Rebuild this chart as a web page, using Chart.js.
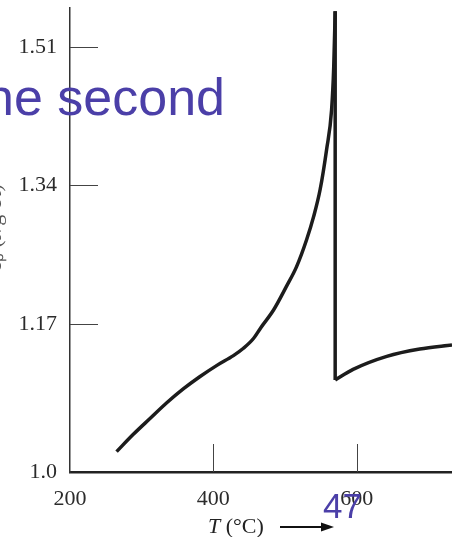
<!DOCTYPE html>
<html>
<head>
<meta charset="utf-8">
<script src="https://cdn.jsdelivr.net/npm/chart.js@4"></script>
<style>
  html, body { margin: 0; padding: 0; background: #ffffff; overflow: hidden; }
  canvas { display: block; }
</style>
</head>
<body>
<canvas id="myChart" width="452" height="537"></canvas>
<script>
// data kurva kiri (naik sampai puncak)
const leftT  = [265, 288, 312, 335, 358, 381, 405, 428, 442, 456, 466, 484, 502, 516, 530, 540, 549, 558, 565, 568, 570];
const leftCp = [1.013, 1.034, 1.054, 1.073, 1.090, 1.105, 1.119, 1.131, 1.140, 1.152, 1.165, 1.187, 1.216, 1.240, 1.273, 1.302, 1.335, 1.384, 1.433, 1.486, 1.554];
// data kurva kanan (setelah jatuh)
const rightT  = [570, 595, 642, 688, 733];
const rightCp = [1.101, 1.114, 1.130, 1.139, 1.144];
// label sumbu
const xTicks = [200, 400, 600];
const yTicks = [1.0, 1.17, 1.34, 1.51];
const yTickLabels = ['1.0', '1.17', '1.34', '1.51'];

// gabungkan array jadi titik {x, y}
function toPoints(xs, ys) {
    return xs.map((x, i) => ({ x: x, y: ys[i] }));
}

const lineColor = '#1c1c1c';
const purple = '#4b3fa8';

// plugin untuk tanda tick di dalam, judul sumbu dan teks ungu
const overlay = {
    id: 'overlay',
    afterDraw(chart) {
        const ctx = chart.ctx;
        const area = chart.chartArea;
        const xs = chart.scales.x;
        const ys = chart.scales.y;
        ctx.save();

        // tick pendek di dalam area
        ctx.strokeStyle = '#444';
        ctx.lineWidth = 1;
        yTicks.slice(1).forEach(v => {
            const py = Math.round(ys.getPixelForValue(v)) + 0.5;
            ctx.beginPath();
            ctx.moveTo(area.left, py);
            ctx.lineTo(area.left + 28, py);
            ctx.stroke();
        });
        xTicks.slice(1).forEach(v => {
            const px = Math.round(xs.getPixelForValue(v)) + 0.5;
            ctx.beginPath();
            ctx.moveTo(px, area.bottom);
            ctx.lineTo(px, area.bottom - 28);
            ctx.stroke();
        });

        // judul sumbu x: T (°C) dengan panah
        ctx.fillStyle = '#222';
        ctx.textBaseline = 'alphabetic';
        ctx.textAlign = 'left';
        ctx.font = 'italic 22px "Liberation Serif"';
        ctx.fillText('T', 208, 533);
        const tw = ctx.measureText('T ').width;
        ctx.font = '22px "Liberation Serif"';
        ctx.fillText('(°C)', 208 + tw, 533);
        ctx.strokeStyle = '#111';
        ctx.lineWidth = 2;
        ctx.beginPath();
        ctx.moveTo(280, 527);
        ctx.lineTo(324, 527);
        ctx.stroke();
        ctx.fillStyle = '#111';
        ctx.beginPath();
        ctx.moveTo(334, 527);
        ctx.lineTo(321, 522.5);
        ctx.lineTo(321, 531.5);
        ctx.closePath();
        ctx.fill();

        // judul sumbu y (terpotong di tepi kiri)
        ctx.save();
        ctx.translate(1, 228);
        ctx.rotate(-Math.PI / 2);
        ctx.textAlign = 'center';
        ctx.fillStyle = '#555';
        ctx.font = '22px "Liberation Serif"';
        ctx.fillText('c\u209A (J/g\u00B7K)', 0, 0);
        ctx.restore();

        // teks ungu dari slide
        ctx.fillStyle = purple;
        ctx.textAlign = 'left';
        ctx.font = '52px "Liberation Sans"';
        ctx.fillText('ne second', -15, 115);
        ctx.font = '35px "Liberation Sans"';
        ctx.fillText('47', 323, 518);

        ctx.restore();
    }
};

const ctx = document.getElementById('myChart').getContext('2d');

new Chart(ctx, {
    type: 'line',
    data: {
        datasets: [
            {
                data: toPoints(leftT, leftCp),
                borderColor: lineColor,
                borderWidth: 3.5,
                pointRadius: 0,
                cubicInterpolationMode: 'monotone'
            },
            {
                // garis tegak di puncak
                data: [
                    { x: leftT[leftT.length - 1], y: leftCp[leftCp.length - 1] },
                    { x: rightT[0], y: rightCp[0] }
                ],
                borderColor: lineColor,
                borderWidth: 3.5,
                pointRadius: 0,
                tension: 0
            },
            {
                data: toPoints(rightT, rightCp),
                borderColor: lineColor,
                borderWidth: 3.5,
                pointRadius: 0,
                cubicInterpolationMode: 'monotone'
            }
        ]
    },
    options: {
        responsive: false,
        animation: false,
        layout: { padding: { top: 8, left: 0, right: 0, bottom: 0 } },
        plugins: {
            legend: { display: false },
            tooltip: { enabled: false }
        },
        scales: {
            x: {
                type: 'linear',
                min: 200,
                max: 733,
                afterFit: axis => {
                    axis.height = 65;
                    axis.paddingLeft = 0;
                    axis.paddingRight = 0;
                },
                afterBuildTicks: axis => {
                    axis.ticks = xTicks.map(v => ({ value: v }));
                },
                grid: { display: false, drawTicks: false },
                border: { color: '#222', width: 2.5 },
                ticks: {
                    color: '#2b2b2b',
                    padding: 14,
                    maxRotation: 0,
                    font: { family: '"Liberation Serif"', size: 22 },
                    callback: v => String(v)
                }
            },
            y: {
                type: 'linear',
                min: 0.988,
                max: 1.558,
                afterFit: axis => {
                    axis.width = 70;
                    axis.paddingTop = 0;
                    axis.paddingBottom = 0;
                },
                afterBuildTicks: axis => {
                    // label "1.0" berada tepat di sumbu x
                    axis.ticks = yTicks.map((v, i) => ({ value: i === 0 ? axis.min : v }));
                },
                grid: { display: false, drawTicks: false },
                border: { color: '#333', width: 1.5 },
                ticks: {
                    color: '#2b2b2b',
                    padding: 13,
                    font: { family: '"Liberation Serif"', size: 22 },
                    callback: (v, i) => yTickLabels[i]
                }
            }
        }
    },
    plugins: [overlay]
});
</script>
</body>
</html>
